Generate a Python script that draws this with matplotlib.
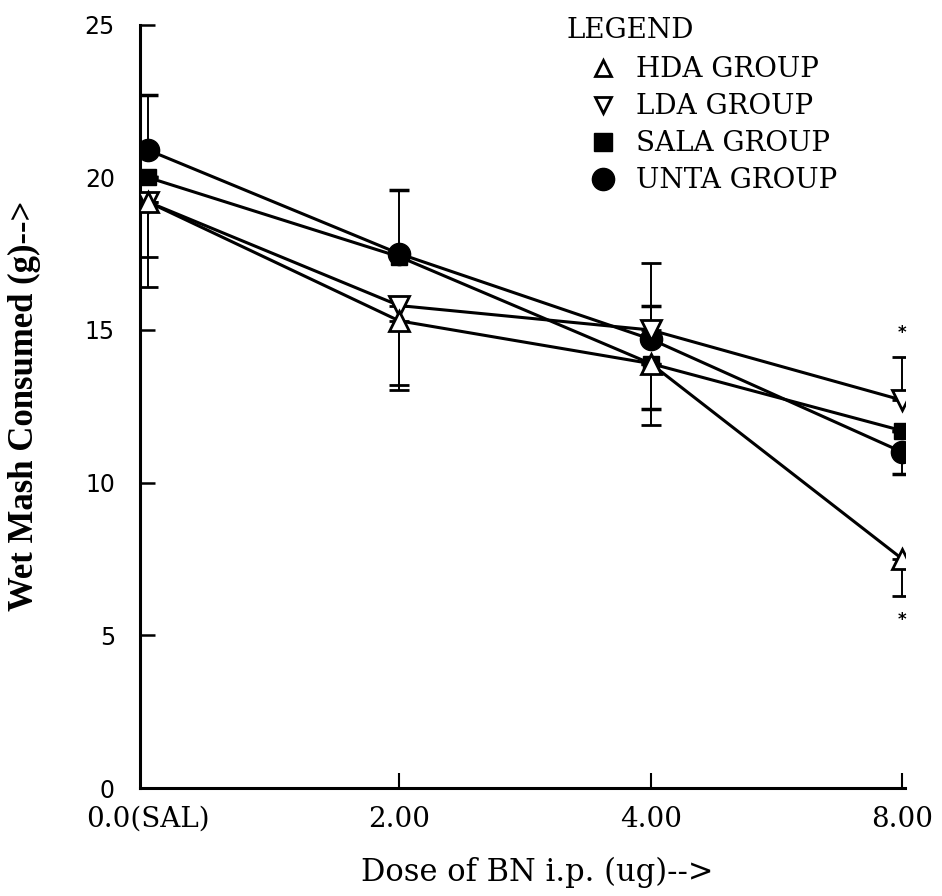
import numpy as np
import matplotlib.pyplot as plt

# dose groups on the x axis (categorical positions)
doses = ["0.0(SAL)", "2.00", "4.00", "8.00"]
pos = np.arange(len(doses))

# mean wet mash consumed (g) per group
hda = [19.2, 15.3, 13.9, 7.5]
lda = [19.2, 15.8, 15.0, 12.7]
sala = [20.0, 17.4, 13.9, 11.7]
unta = [20.9, 17.5, 14.7, 11.0]

# one-sided error bars: (lower, upper)
hda_err = ([1.8, 2.25, 2.0, 1.2], [0, 0, 0, 0])
lda_err = ([2.8, 2.6, 0, 0], [0, 0, 2.2, 1.4])
sala_err = ([0, 0, 1.5, 0], [0, 0, 0, 0])
unta_err = ([0, 0, 0, 0.7], [1.8, 2.1, 1.1, 0])

# significance stars at the top dose
star_x = [3, 3]
star_y = [14.9, 5.5]

plt.rcParams['font.family'] = 'DejaVu Sans'

fig = plt.figure(figsize=(9.42, 8.96), dpi=100)
ax = fig.add_axes([0.1486, 0.1205, 0.812, 0.852])

eb = dict(color='black', elinewidth=1.4, capsize=7, capthick=2.5, lw=2.2)
ax.errorbar(pos, unta, yerr=unta_err, marker='o', ms=16, mfc='black', mec='black',
            label='UNTA GROUP', zorder=3, **eb)
ax.errorbar(pos, sala, yerr=sala_err, marker='s', ms=12, mfc='black', mec='black',
            label='SALA GROUP', zorder=3, **eb)
ax.errorbar(pos, lda, yerr=lda_err, marker='v', ms=14, mfc='white', mec='black',
            mew=2, label='LDA GROUP', zorder=4, **eb)
ax.errorbar(pos, hda, yerr=hda_err, marker='^', ms=14, mfc='white', mec='black',
            mew=2, label='HDA GROUP', zorder=4, **eb)
for sx, sy in zip(star_x, star_y):
    ax.text(sx, sy, '*', ha='center', va='center', fontsize=12, fontweight='bold')

ax.set_xlim(-0.03, 3.01)
ax.set_ylim(0, 25)
ax.set_xticks(pos)
ax.set_xticklabels(doses, family='DejaVu Serif', fontsize=20)
ax.set_yticks([0, 5, 10, 15, 20, 25])
ax.set_yticklabels(['0', '5', '10', '15', '20', '25'], fontsize=17)
ax.tick_params(axis='y', direction='in', length=11, width=1.8, pad=18)
ax.tick_params(axis='x', direction='in', length=11, width=1.5, pad=13)
ax.xaxis.get_major_ticks()[0].tick1line.set_visible(False)
for s in ['top', 'right']:
    ax.spines[s].set_visible(False)
for s in ['left', 'bottom']:
    ax.spines[s].set_linewidth(2.2)

ax.set_xlabel('Dose of BN i.p. (ug)-->', family='DejaVu Serif', fontsize=22)
ax.xaxis.set_label_coords(0.519, -0.09)
ax.set_ylabel('Wet Mash Consumed (g)-->', family='Liberation Serif',
              fontweight='bold', fontsize=25)
ax.yaxis.set_label_coords(-0.13, 0.5)

fig.text(567 / 942, 1 - 30 / 896, 'LEGEND', family='DejaVu Serif', fontsize=20,
         ha='left', va='center')

handles, labels = ax.get_legend_handles_labels()
order = [3, 2, 1, 0]
leg = fig.legend([handles[i][0] for i in order], [labels[i] for i in order],
                 loc='upper left', bbox_to_anchor=(0.628, 0.937),
                 frameon=False, handlelength=0.8, handletextpad=0.8,
                 labelspacing=0.36, borderaxespad=0, borderpad=0,
                 prop={'family': 'DejaVu Serif', 'size': 20})
for h, ms in zip(leg.legend_handles, [12, 12, 13, 16]):
    h.set_markersize(ms)
    h.set_linestyle('none')

fig.savefig('out.png', dpi=100)
